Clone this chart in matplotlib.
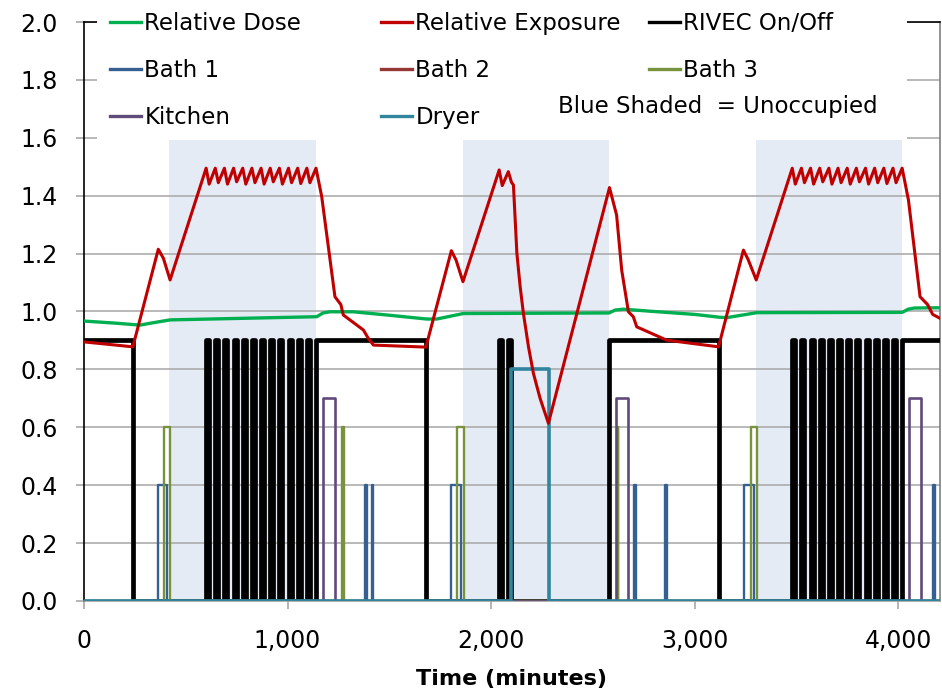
import matplotlib.pyplot as plt
from matplotlib.lines import Line2D
from matplotlib.patches import Rectangle
from matplotlib.ticker import FuncFormatter, MultipleLocator

# blue shaded = unoccupied periods (minutes)
unoccupied = [(420, 1140), (1860, 2580), (3300, 4020)]

# Relative Dose
dose_t = [0, 150, 275, 330, 423, 1143, 1175, 1209, 1323, 1487, 1684, 1733, 1864,
          2580, 2610, 2650, 2800, 3000, 3125, 3160, 3307, 4020, 4050, 4080, 4210]
dose_v = [0.967, 0.960, 0.953, 0.960, 0.971, 0.982, 0.995, 0.999, 0.999, 0.988, 0.974, 0.974, 0.993,
          0.995, 1.005, 1.008, 1.000, 0.990, 0.980, 0.979, 0.996, 0.997, 1.008, 1.012, 1.013]

# Relative Exposure
exp_t = [0, 240, 365, 390, 423,
         600, 615, 645, 660, 690, 705, 735, 750, 780, 795, 825, 840, 870, 885,
         915, 930, 960, 975, 1005, 1020, 1050, 1065, 1095, 1110, 1140,
         1168, 1233, 1262, 1274, 1373, 1397, 1422, 1680,
         1805, 1828, 1862, 2040, 2055, 2085, 2100, 2110, 2127, 2143, 2159, 2184, 2208, 2241, 2282,
         2582, 2617, 2642, 2675, 2699, 2716, 2863, 3118,
         3240, 3263, 3303,
         3480, 3495, 3525, 3540, 3570, 3585, 3615, 3630, 3660, 3675, 3705, 3720, 3750, 3765,
         3795, 3810, 3840, 3855, 3885, 3900, 3930, 3945, 3975, 3990, 4020,
         4051, 4108, 4145, 4170, 4210]
exp_v = [0.895, 0.878, 1.215, 1.184, 1.109,
         1.495, 1.440, 1.495, 1.445, 1.495, 1.440, 1.495, 1.448, 1.495, 1.440, 1.495, 1.445,
         1.495, 1.440, 1.495, 1.448, 1.495, 1.440, 1.495, 1.445, 1.495, 1.442, 1.495, 1.445, 1.495,
         1.397, 1.051, 1.024, 0.988, 0.936, 0.907, 0.884, 0.877,
         1.210, 1.178, 1.103, 1.489, 1.435, 1.483, 1.447, 1.437, 1.201, 1.086, 0.994, 0.878, 0.787, 0.700, 0.614,
         1.428, 1.333, 1.143, 0.999, 0.982, 0.947, 0.901, 0.878,
         1.212, 1.180, 1.109,
         1.495, 1.440, 1.495, 1.445, 1.495, 1.440, 1.495, 1.448, 1.495, 1.440, 1.495, 1.445,
         1.495, 1.440, 1.495, 1.448, 1.495, 1.440, 1.495, 1.445, 1.495, 1.442, 1.495, 1.445, 1.495,
         1.385, 1.051, 1.024, 0.990, 0.975]

# on/off periods (start, end) in minutes and the level each series is drawn at
rivec_on = [(0, 240), (600, 615), (645, 660), (690, 705), (735, 750), (780, 795), (825, 840),
            (870, 885), (915, 930), (960, 975), (1005, 1020), (1050, 1065), (1095, 1110),
            (1140, 1680), (2040, 2055), (2085, 2100), (2580, 3120),
            (3480, 3495), (3525, 3540), (3570, 3585), (3615, 3630), (3660, 3675), (3705, 3720),
            (3750, 3765), (3795, 3810), (3840, 3855), (3885, 3900), (3930, 3945), (3975, 3990),
            (4020, 4300)]
bath1_on = [(365, 410), (1383, 1391), (1415, 1422), (1805, 1850), (2703, 2711),
            (2856, 2864), (3245, 3290), (4173, 4181)]
bath2_on = []
bath3_on = [(395, 425), (1268, 1276), (1835, 1865), (2624, 2626), (3275, 3305)]
kitchen_on = [(1175, 1235), (2615, 2675), (4055, 4115)]
dryer_on = [(2100, 2285)]

rivec_lvl = 0.9
bath1_lvl = 0.4
bath2_lvl = 0.5
bath3_lvl = 0.6
kitchen_lvl = 0.7
dryer_lvl = 0.8


def steps(on, lvl, end=4300):
    xs, ys = [], []
    if not on or on[0][0] > 0:
        xs, ys = [0], [0]
    for a, b in on:
        if a == 0:
            xs += [0, b, b]
            ys += [lvl, lvl, 0]
        else:
            xs += [a, a, b, b]
            ys += [0, lvl, lvl, 0]
    xs.append(end)
    ys.append(0)
    return xs, ys


fig = plt.figure(figsize=(9.42, 6.94), dpi=100)
ax = fig.add_axes([84 / 942, 93 / 694, 856 / 942, 579 / 694])

for a, b in unoccupied:
    ax.fill_between([a, b], 0, 1.6, color='#e4ebf4', lw=0, zorder=0.5)

ax.plot(dose_t, dose_v, color='#00b050', lw=2.4, zorder=3)
x, y = steps(rivec_on, rivec_lvl)
ax.plot(x, y, color='black', lw=3.4, zorder=4, solid_joinstyle='round')
x, y = steps(bath1_on, bath1_lvl)
ax.plot(x, y, color='#376092', lw=1.7, zorder=5)
x, y = steps(bath2_on, bath2_lvl)
ax.plot(x, y, color='#953735', lw=1.7, zorder=5)
x, y = steps(bath3_on, bath3_lvl)
ax.plot(x, y, color='#77933c', lw=1.7, zorder=5)
x, y = steps(kitchen_on, kitchen_lvl)
ax.plot(x, y, color='#604a7b', lw=1.9, zorder=5)
x, y = steps(dryer_on, dryer_lvl)
ax.plot(x, y, color='#31859c', lw=2.6, zorder=6)
ax.plot(exp_t, exp_v, color='#c00000', lw=2.2, zorder=7)

ax.set_xlim(0, 4206)
ax.set_ylim(0, 2.0)
ax.yaxis.set_major_locator(MultipleLocator(0.2))
ax.xaxis.set_major_locator(MultipleLocator(1000))
ax.yaxis.set_major_formatter(FuncFormatter(lambda v, p: f'{v:.1f}'))
ax.xaxis.set_major_formatter(FuncFormatter(lambda v, p: f'{v:,.0f}'))
ax.grid(axis='y', color='#a6a6a6', lw=1.1, zorder=0.8)
ax.set_axisbelow(True)
ax.tick_params(axis='both', labelsize=17, color='#a0a0a0', length=6, width=1.1)
ax.tick_params(axis='y', pad=13)
ax.tick_params(axis='x', pad=14)
ax.spines['left'].set_color('black')
ax.spines['top'].set_color('black')
ax.spines['right'].set_color('#808080')
ax.spines['bottom'].set_color('#a0a0a0')
for s in ax.spines.values():
    s.set_linewidth(1.2)
ax.set_xlabel('Time (minutes)', fontsize=16, fontweight='bold', labelpad=12)

# legend area
fig.add_artist(Rectangle((97 / 942, 1 - 140 / 694), 810 / 942, 140 / 694,
                         transform=fig.transFigure, facecolor='white', edgecolor='none', zorder=4))

cols = [
    [('Relative Dose', '#00b050'), ('Bath 1', '#376092'), ('Kitchen', '#604a7b')],
    [('Relative Exposure', '#c00000'), ('Bath 2', '#953735'), ('Dryer', '#31859c')],
    [('RIVEC On/Off', 'black'), ('Bath 3', '#77933c')],
]
col_x = [110, 381, 649]
for cx, entries in zip(col_x, cols):
    handles = [Line2D([], [], color=c, lw=2.4) for _, c in entries]
    labels = [n for n, _ in entries]
    lg = fig.legend(handles, labels, loc='upper left', bbox_to_anchor=(cx / 942, 1 - 12 / 694),
                    frameon=False, fontsize=16.5, handlelength=1.35, handletextpad=0.15,
                    labelspacing=1.05, borderpad=0, borderaxespad=0)
    lg.set_zorder(5)

fig.text(558 / 942, 1 - 106 / 694, 'Blue Shaded  = Unoccupied', fontsize=16.5,
         va='center', ha='left', zorder=5)

fig.savefig('out.png', dpi=100)
